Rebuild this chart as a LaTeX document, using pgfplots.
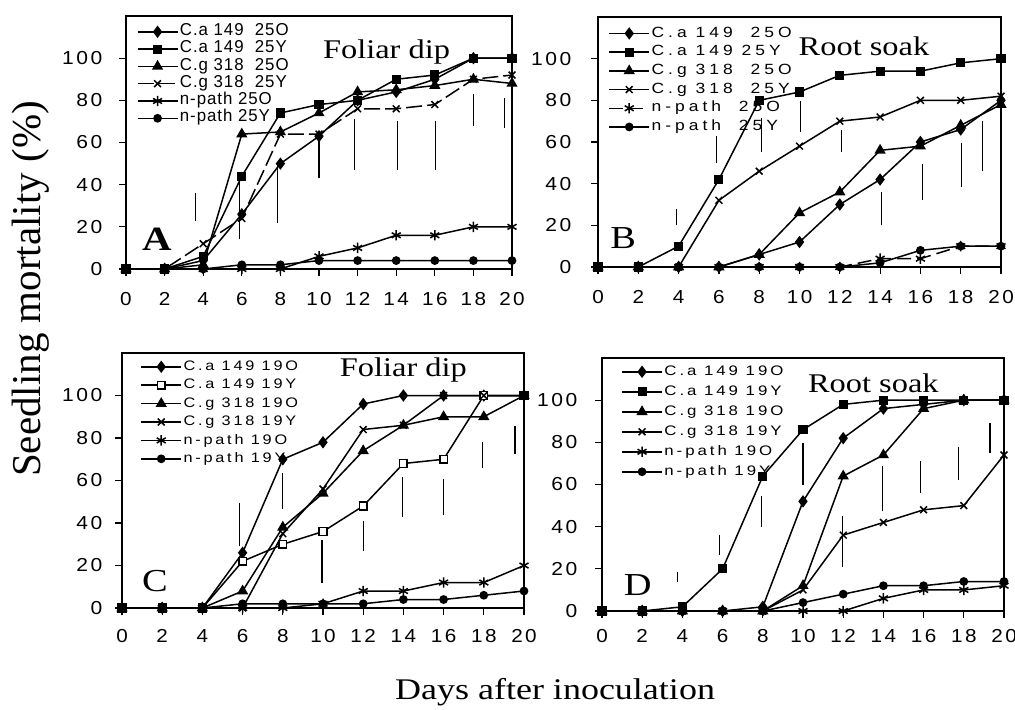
\documentclass[border=0pt]{standalone}
\usepackage{fontspec}
\usepackage{graphicx}
\setmainfont{Liberation Serif}[FakeStretch=1.2]
\newfontfamily\yfont{Liberation Serif}
\newfontfamily\tickfont[LetterSpace=12]{Liberation Sans}
\newfontfamily\legfont{Liberation Sans}
\usepackage{pgfplots}
\usepackage{pgfplotstable}
\pgfplotsset{compat=1.18}

\def\lgx{1}
\newcommand\lgs[1]{\scalebox{\lgx}[1]{#1}}

% mortality (%) by day; columns: C.a 149 O/Y, C.g 318 O/Y, n-path O/Y
\pgfplotstableread{
d caO caY cgO cgY npO npY
0 0 0 0 0 0 0
2 0 0 0 0 0 0
4 4 6 2 12 0 0
6 26 44 64 24 0 2
8 50 74 65 64 0 2
10 63 78 74 64 6 4
12 80 80 84 76 10 4
14 84 90 85 76 16 4
16 90 92 87 78 16 4
18 100 100 90 90 20 4
20 100 100 88 92 20 4
}\tabA
\pgfplotstableread{
d caO caY cgO cgY npO npY
0 0 0 0 0 0 0
2 0 0 0 0 0 0
4 0 10 0 0 0 0
6 0 42 0 32 0 0
8 6 80 6 46 0 0
10 12 84 26 58 0 0
12 30 92 36 70 0 0
14 42 94 56 72 4 2
16 60 94 58 80 4 8
18 66 98 68 80 10 10
20 80 100 78 82 10 10
}\tabB
\pgfplotstableread{
d caO caY cgO cgY npO npY
0 0 0 0 0 0 0
2 0 0 0 0 0 0
4 0 0 0 0 0 0
6 26 22 8 0 0 2
8 70 30 38 35 0 2
10 78 36 54 56 2 2
12 96 48 74 84 8 2
14 100 68 86 86 8 4
16 100 70 90 100 12 4
18 100 100 90 100 12 6
20 100 100 100 100 20 8
}\tabC
\pgfplotstableread{
d caO caY cgO cgY npO npY
0 0 0 0 0 0 0
2 0 0 0 0 0 0
4 0 2 0 0 0 0
6 0 20 0 0 0 0
8 2 64 0 0 0 0
10 52 86 12 10 0 4
12 82 98 64 36 0 8
14 96 100 74 42 6 12
16 98 100 96 48 10 12
18 100 100 100 50 10 14
20 100 100 100 74 12 14
}\tabD

\pgfplotsset{
  panel/.style={
    scale only axis, anchor=north west,
    xmin=0, xmax=20, ymin=0, ymax=120,
    xtick={0,2,...,20}, ytick={0,20,...,100},
    tick align=outside, tick pos=left,
    major tick length=3.5pt,
    axis line style={line width=0.8pt},
    major tick style={line width=0.6pt, black},
    tick label style={font=\tickfont\fontsize{9.4}{10}\selectfont},
    xticklabel={\scalebox{1.1}[1]{\pgfmathprintnumber{\tick}}},
    yticklabel={\scalebox{1.12}[1]{\pgfmathprintnumber{\tick}}},
    /pgf/number format/assume math mode=true,
    clip=false,
    legend cell align=left,
    legend style={draw=none, fill=none, inner sep=0pt, anchor=north west,
      nodes={inner sep=0.8pt, text height=5.2pt, text depth=1.5pt}},
    legend image code/.code={\draw[mark repeat=2,mark phase=2]
      plot coordinates {(0pt,0pt) (10pt,0pt) (20pt,0pt)};},
  },
  ser/.style={black, line width=0.75pt},
  caO/.style={ser, mark=diamond*, mark size=2.5pt, mark options={solid, fill=black}},
  caY/.style={ser, mark=square*, mark size=1.9pt, mark options={solid, fill=black}},
  caYo/.style={ser, mark=square*, mark size=1.9pt, mark options={solid, fill=white}},
  cgO/.style={ser, mark=triangle*, mark size=2.5pt, mark options={solid, fill=black}},
  cgY/.style={ser, mark=x, mark size=2.4pt, mark options={solid}},
  npO/.style={ser, mark=asterisk, mark size=2.6pt, mark options={solid}},
  npY/.style={ser, mark=*, mark size=1.8pt, mark options={solid, fill=black}},
  ebar/.style={black, line width=0.6pt, unbounded coords=jump, forget plot, mark=none},
}
\tikzset{
  ptxt/.style={font=\fontsize{13.5}{14}\selectfont},
  plet/.style={font=\fontsize{16}{16}\selectfont},
}

\begin{document}
\begin{tikzpicture}
\path[use as bounding box] (0pt,0pt) rectangle (507.5pt,-354.5pt);

% A: foliar dip, 25
\def\lgx{0.98}
\begin{axis}[panel, at={(63pt,-8pt)}, width=193pt, height=126.5pt,
  xticklabel style={yshift=-4.75pt}, yticklabel style={xshift=-4.8pt},
  legend style={at={(0.027,0.972)}, row sep=0.35pt,
    font=\legfont\fontsize{8.6}{9}\selectfont\addfontfeatures{LetterSpace=5.6}}]
\addplot[ebar] table {
3.6 23
3.6 36
nan nan
5.9 14
5.9 44
nan nan
7.85 22
7.85 50
nan nan
10 43
10 63
nan nan
11.85 47
11.85 71
nan nan
14.05 47
14.05 70
nan nan
16.05 47
16.05 70
nan nan
18 68
18 83
nan nan
19.6 67
19.6 81
};
\addplot[caO] table[x=d, y=caO] {\tabA}; \addlegendentry{\lgs{C.a 149\ \ 25O}}
\addplot[caY] table[x=d, y=caY] {\tabA}; \addlegendentry{\lgs{C.a 149\ \ 25Y}}
\addplot[cgO] table[x=d, y=cgO] {\tabA}; \addlegendentry{\lgs{C.g 318\ \ 25O}}
\addplot[cgY, dash pattern=on 8pt off 2.5pt] table[x=d, y=cgY] {\tabA}; \addlegendentry{\lgs{C.g 318\ \ 25Y}}
\addplot[npO] table[x=d, y=npO] {\tabA}; \addlegendentry{\lgs{n-path 25O}}
\addplot[npY] table[x=d, y=npY] {\tabA}; \addlegendentry{\lgs{n-path 25Y}}
\node[ptxt] at (axis cs:13.5,102.8) {Foliar dip};
\node[font=\fontsize{17}{17}\selectfont\bfseries] at (axis cs:1.6,14.2) {A};
\end{axis}

% B: root soak, 25
\def\lgx{1.18}
\begin{axis}[panel, at={(299pt,-8.5pt)}, width=201.5pt, height=125pt,
  xticklabel style={yshift=-4.75pt}, yticklabel style={xshift=-6.3pt},
  legend style={at={(0.025,0.969)}, row sep=1.05pt,
    font=\legfont\fontsize{7.4}{8}\selectfont\addfontfeatures{LetterSpace=23}}]
\addplot[ebar] table {
3.9 20
3.9 28
nan nan
5.9 50
5.9 63
nan nan
8.1 55
8.1 71.5
nan nan
10.05 65
10.05 79.5
nan nan
12.1 55
12.1 66
nan nan
14.05 20
14.05 36
nan nan
16.1 32
16.1 49.5
nan nan
18.05 38.5
18.05 59.5
nan nan
19.1 46
19.1 70
};
\addplot[caO] table[x=d, y=caO] {\tabB}; \addlegendentry{\lgs{C.a 149\ \ 25O}}
\addplot[caY] table[x=d, y=caY] {\tabB}; \addlegendentry{\lgs{C.a 149 25Y}}
\addplot[cgO] table[x=d, y=cgO] {\tabB}; \addlegendentry{\lgs{C.g 318\ \ 25O}}
\addplot[cgY] table[x=d, y=cgY] {\tabB}; \addlegendentry{\lgs{C.g 318\ \ 25Y}}
\addplot[npO, dash pattern=on 7pt off 3pt] table[x=d, y=npO] {\tabB}; \addlegendentry{\lgs{n-path\ \ 25O}}
\addplot[npY] table[x=d, y=npY] {\tabB}; \addlegendentry{\lgs{n-path\ \ 25Y}}
\node[ptxt] at (axis cs:13.2,106) {Root soak};
\node[plet] at (axis cs:1.25,13.7) {B};
\end{axis}

% C: foliar dip, 19
\def\lgx{1.18}
\begin{axis}[panel, at={(61pt,-176.5pt)}, width=201pt, height=127.5pt,
  xticklabel style={yshift=-3.5pt}, yticklabel style={xshift=-2.8pt},
  legend style={at={(0.045,0.98)}, row sep=0.9pt,
    font=\legfont\fontsize{6.9}{7}\selectfont\addfontfeatures{LetterSpace=17}}]
\addplot[ebar] table {
5.85 29
5.85 49.5
nan nan
8 46.5
8 63.5
nan nan
9.95 11.6
9.95 32
nan nan
12 27
12 41
nan nan
13.95 43
13.95 61.5
nan nan
16 44
16 60.7
nan nan
17.95 66
17.95 78
nan nan
19.55 72.6
19.55 85.8
};
\addplot[caO] table[x=d, y=caO] {\tabC}; \addlegendentry{\lgs{C.a 149 19O}}
\addplot[caYo] table[x=d, y=caY] {\tabC}; \addlegendentry{\lgs{C.a 149 19Y}}
\addplot[cgO] table[x=d, y=cgO] {\tabC}; \addlegendentry{\lgs{C.g 318 19O}}
\addplot[cgY] table[x=d, y=cgY] {\tabC}; \addlegendentry{\lgs{C.g 318 19Y}}
\addplot[npO] table[x=d, y=npO] {\tabC}; \addlegendentry{\lgs{n-path 19O}}
\addplot[npY] table[x=d, y=npY] {\tabC}; \addlegendentry{\lgs{n-path 19Y}}
\node[ptxt] at (axis cs:14,111.9) {Foliar dip};
\node[plet] at (axis cs:1.64,12.9) {C};
\end{axis}

% D: root soak, 19
\def\lgx{1.22}
\begin{axis}[panel, at={(301pt,-179pt)}, width=201pt, height=126.5pt,
  xticklabel style={yshift=-2.25pt}, yticklabel style={xshift=-5.3pt},
  legend style={at={(0.047,0.98)}, row sep=1.7pt,
    font=\legfont\fontsize{6.9}{7}\selectfont\addfontfeatures{LetterSpace=17.5}}]
\addplot[ebar] table {
3.75 14
3.75 18.7
nan nan
5.85 26.7
5.85 36.2
nan nan
7.95 40
7.95 54.4
nan nan
10 59.7
10 79.5
nan nan
11.95 20.8
11.95 44.9
nan nan
13.95 47.3
13.95 68.7
nan nan
15.85 56
15.85 71
nan nan
17.75 62
17.75 78
nan nan
19.3 75
19.3 89
};
\addplot[caO] table[x=d, y=caO] {\tabD}; \addlegendentry{\lgs{C.a 149 19O}}
\addplot[caY] table[x=d, y=caY] {\tabD}; \addlegendentry{\lgs{C.a 149 19Y}}
\addplot[cgO] table[x=d, y=cgO] {\tabD}; \addlegendentry{\lgs{C.g 318 19O}}
\addplot[cgY] table[x=d, y=cgY] {\tabD}; \addlegendentry{\lgs{C.g 318 19Y}}
\addplot[npO] table[x=d, y=npO] {\tabD}; \addlegendentry{\lgs{n-path 19O}}
\addplot[npY] table[x=d, y=npY] {\tabD}; \addlegendentry{\lgs{n-path 19Y}}
\node[ptxt] at (axis cs:13.5,108.2) {Root soak};
\node[plet] at (axis cs:1.78,12.1) {D};
\end{axis}

\node[rotate=90, font=\yfont\fontsize{20.5}{21}\selectfont] at (15.5pt,-144.5pt) {Seedling mortality (\%)};
\node[font=\fontsize{15}{15}\selectfont] at (277.5pt,-346pt) {Days after inoculation};
\end{tikzpicture}
\end{document}
